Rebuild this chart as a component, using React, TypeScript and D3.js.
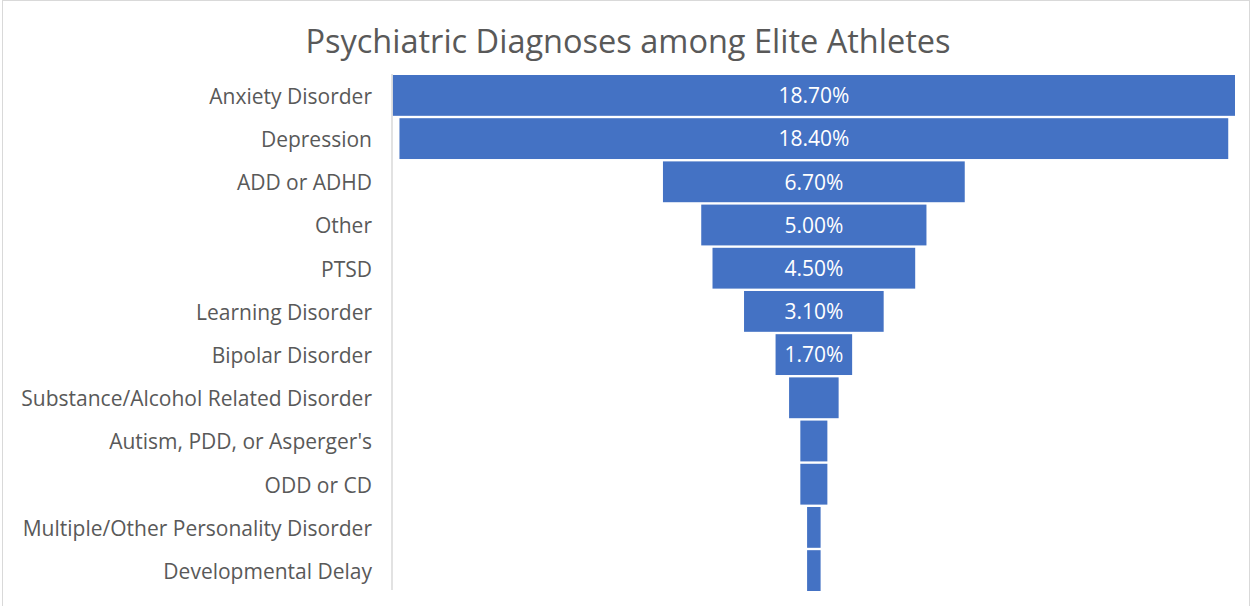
import React, { useEffect, useRef } from "react";
import * as d3 from "d3";

const categories = [
  "Anxiety Disorder",
  "Depression",
  "ADD or ADHD",
  "Other",
  "PTSD",
  "Learning Disorder",
  "Bipolar Disorder",
  "Substance/Alcohol Related Disorder",
  "Autism, PDD, or Asperger's",
  "ODD or CD",
  "Multiple/Other Personality Disorder",
  "Developmental Delay",
];
const values = [18.7, 18.4, 6.7, 5.0, 4.5, 3.1, 1.7, 1.1, 0.6, 0.6, 0.3, 0.3];

const W = 1252;
const H = 606;
const FONT = "'Open Sans', 'Noto Sans', sans-serif";

export default function App() {
  const svgRef = useRef<SVGSVGElement | null>(null);

  useEffect(() => {
    if (!svgRef.current) return;
    const svg = d3.select(svgRef.current);
    svg.selectAll("*").remove();

    // chart frame
    svg
      .append("rect")
      .attr("x", 2.5)
      .attr("y", 0.5)
      .attr("width", W - 5)
      .attr("height", H + 20)
      .attr("fill", "#fff")
      .attr("stroke", "#d9d9d9");

    svg
      .append("text")
      .attr("x", 628)
      .attr("y", 53)
      .attr("text-anchor", "middle")
      .attr("font-family", FONT)
      .attr("font-size", 32.5)
      .attr("fill", "#595959")
      .text("Psychiatric Diagnoses among Elite Athletes");

    const max = d3.max(values) || 0;
    const x = d3.scaleLinear().domain([-max / 2, max / 2]).range([392.7, 1235]);
    const y = d3
      .scaleBand<string>()
      .domain(categories)
      .range([75, 591])
      .paddingInner(0.055)
      .paddingOuter(0);

    const rows = categories.map((c, i) => ({ c, v: values[i] }));

    svg
      .append("g")
      .selectAll("rect")
      .data(rows)
      .join("rect")
      .attr("x", (d) => x(-d.v / 2))
      .attr("y", (d) => y(d.c) as number)
      .attr("width", (d) => x(d.v / 2) - x(-d.v / 2))
      .attr("height", y.bandwidth())
      .attr("fill", "#4472c4");

    // data labels, only where they fit
    svg
      .append("g")
      .selectAll("text")
      .data(rows.filter((d) => x(d.v / 2) - x(-d.v / 2) > 70))
      .join("text")
      .attr("x", x(0))
      .attr("y", (d) => (y(d.c) as number) + y.bandwidth() / 2)
      .attr("dy", "0.37em")
      .attr("text-anchor", "middle")
      .attr("font-family", FONT)
      .attr("font-size", 21)
      .attr("fill", "#fff")
      .text((d) => d.v.toFixed(2) + "%");

    // category axis
    svg
      .append("line")
      .attr("x1", 392)
      .attr("x2", 392)
      .attr("y1", 74)
      .attr("y2", 590)
      .attr("stroke", "#d9d9d9")
      .attr("stroke-width", 1.5);

    svg
      .append("g")
      .selectAll("text")
      .data(categories)
      .join("text")
      .attr("x", 372)
      .attr("y", (d) => (y(d) as number) + y.bandwidth() / 2)
      .attr("dy", "0.4em")
      .attr("text-anchor", "end")
      .attr("font-family", FONT)
      .attr("font-size", 21)
      .attr("fill", "#595959")
      .text((d) => d);
  }, []);

  return (
    <svg
      ref={svgRef}
      width={W}
      height={H}
      style={{ position: "absolute", left: 0, top: 0 }}
    />
  );
}
